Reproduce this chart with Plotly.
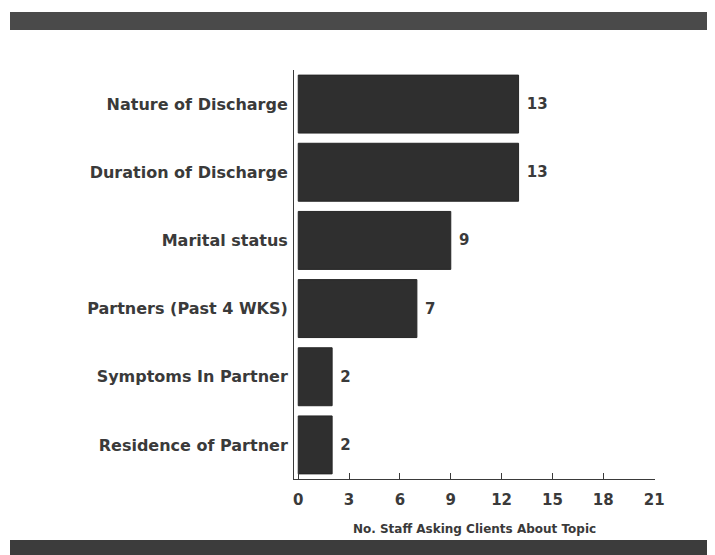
import plotly.graph_objects as go

topics = [
    "Nature of Discharge",
    "Duration of Discharge",
    "Marital status",
    "Partners (Past 4 WKS)",
    "Symptoms In Partner",
    "Residence of Partner",
]
staff_counts = [13, 13, 9, 7, 2, 2]
x_ticks = [0, 3, 6, 9, 12, 15, 18, 21]

# page body has an 8px margin, so the figure is drawn a bit smaller
OFF = 8
W, H = 715 - OFF, 555 - OFF
L, R, T, B = 294 - OFF, 60, 70 - OFF, 76
pw, ph = W - L - R, H - T - B


def px_x(x):
    return (x - OFF - L) / pw


def px_y(y):
    return (H - B - (y - OFF)) / ph


ink = "#3a3a3a"
font = dict(family="DejaVu Sans, Arial, sans-serif", color=ink, size=14, weight="bold")

fig = go.Figure(
    go.Bar(
        x=staff_counts,
        y=topics,
        orientation="h",
        marker=dict(color="#2f2f2f", line=dict(color="#262626", width=1)),
        text=[f" {v}" for v in staff_counts],
        textposition="outside",
        textfont=dict(font, size=15),
        cliponaxis=False,
        width=0.85,
    )
)

fig.update_layout(
    width=W,
    height=H,
    margin=dict(l=L, r=R, t=T, b=B),
    paper_bgcolor="white",
    plot_bgcolor="white",
    showlegend=False,
    font=font,
    xaxis=dict(
        range=[-0.25, 21.05],
        tickvals=x_ticks,
        ticks="inside",
        ticklen=6,
        tickcolor=ink,
        showline=True,
        linecolor=ink,
        linewidth=1,
        showgrid=False,
        zeroline=False,
        ticklabelstandoff=7,
        tickfont=dict(font, size=15),
        title=dict(text="No. Staff Asking Clients About Topic", font=dict(font, size=12), standoff=16),
    ),
    yaxis=dict(
        autorange="reversed",
        showline=True,
        linecolor=ink,
        linewidth=1,
        showgrid=False,
        ticks="",
        ticklabelstandoff=2,
        tickfont=dict(font, size=16),
    ),
    shapes=[
        dict(type="rect", xref="paper", yref="paper",
             x0=px_x(10), x1=px_x(730), y0=px_y(30), y1=px_y(12),
             fillcolor="#4a4a4a", line=dict(width=0), layer="above"),
        dict(type="rect", xref="paper", yref="paper",
             x0=px_x(10), x1=px_x(730), y0=px_y(570), y1=px_y(540),
             fillcolor="#3c3c3c", line=dict(width=0), layer="above"),
    ],
)

fig.write_html("out.html")
